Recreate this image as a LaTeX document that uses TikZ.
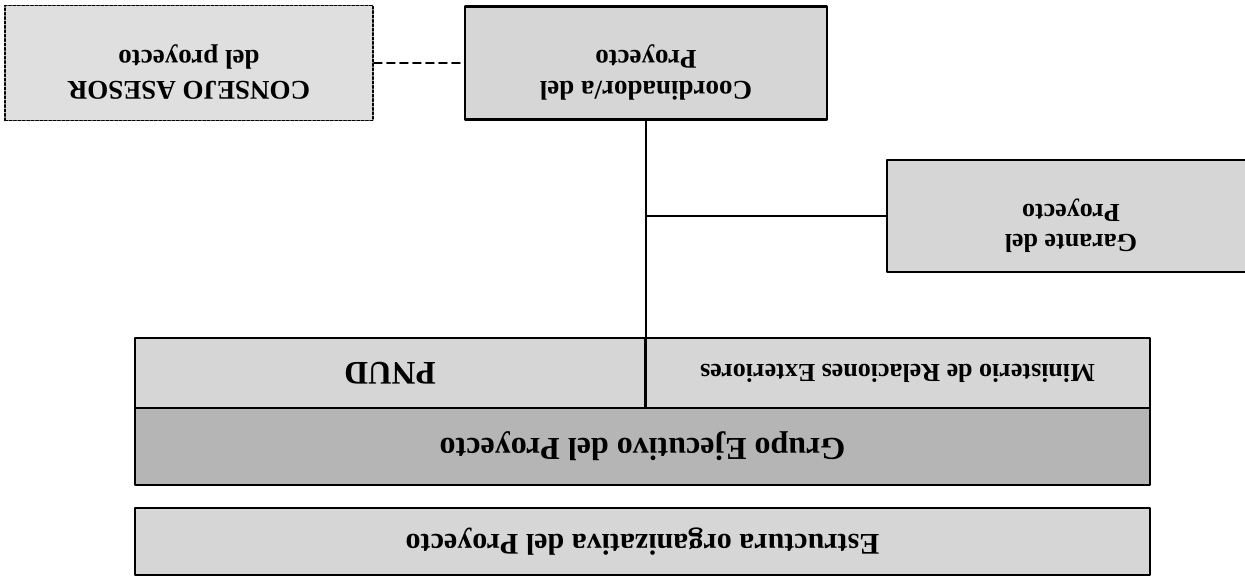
\documentclass[tikz,border=0pt]{standalone}
\usepackage{fontspec}
\setmainfont{Liberation Serif}
\newcommand{\uptext}[2][9pt]{\raisebox{#1}[\height][\depth]{\begin{tabular}{@{}c@{}}#2\end{tabular}}}
\tikzset{
  box/.style={draw=black, line width=2.4pt, fill=gray!32, rotate=180, align=center, inner sep=0pt, font=\bfseries\fontsize{27}{31}\selectfont},
  dotbox/.style={box, dotted, line width=1.8pt, fill=gray!25}
}
\begin{document}
\begin{tikzpicture}[x=1pt, y=-1pt, line join=round, line cap=round]
	\useasboundingbox (0,0) rectangle (1245,578);
	\node[dotbox, minimum width=368pt, minimum height=115pt] (consejo) at (189,63) {\uptext{CONSEJO ASESOR\\del proyecto}};
	\node[box, minimum width=362pt, minimum height=113pt] (coord) at (646,63) {\uptext{Coordinador/a del\\Proyecto}};
	\node[box, minimum width=368pt, minimum height=112pt, font=\bfseries\fontsize{26}{30}\selectfont] (garante) at (1071,216) {\uptext{Garante del\\Proyecto}};
	\node[box, minimum width=510pt, minimum height=70pt, font=\bfseries\fontsize{33}{36}\selectfont] (pnud) at (390,373) {PNUD};
	\node[box, minimum width=505pt, minimum height=70pt, font=\bfseries\fontsize{26}{30}\selectfont] (mre) at (897.5,373) {Ministerio de Relaciones Exteriores};
	\node[box, minimum width=1015pt, minimum height=77pt, fill=gray!58, font=\bfseries\fontsize{32}{36}\selectfont] (grupo) at (642.5,446.5) {Grupo Ejecutivo del Proyecto};
	\node[box, minimum width=1015pt, minimum height=67pt, font=\bfseries\fontsize{30}{34}\selectfont] (estructura) at (642.5,541.5) {Estructura organizativa del Proyecto};
	\coordinate (j) at (646,216);
	\draw[dashed, line width=1.6pt, dash pattern=on 8pt off 5pt] (consejo) -- (coord);
	\draw[line width=1.6pt] (coord) -- (j) -- (grupo.south -| j);
	\draw[line width=1.6pt] (j) -- (garante);
\end{tikzpicture}
\end{document}
